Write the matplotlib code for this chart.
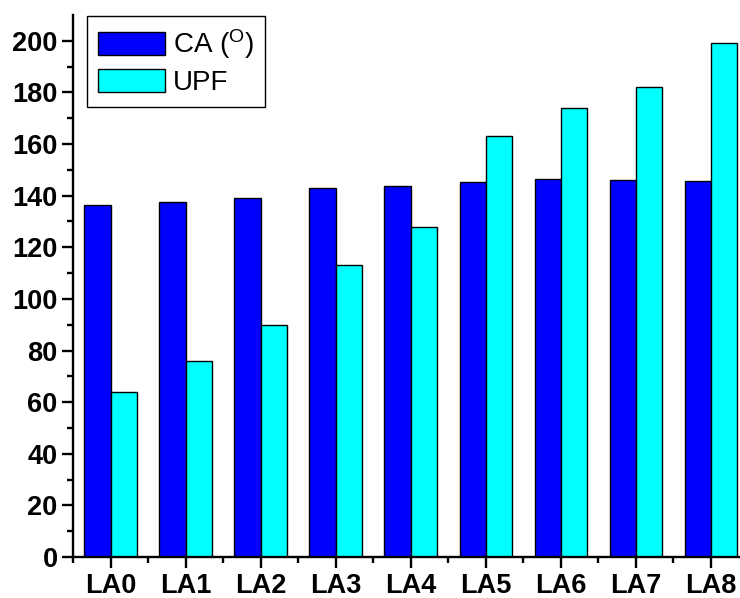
import numpy as np
import matplotlib.pyplot as plt

plt.rcParams['font.family'] = ['Liberation Sans', 'DejaVu Sans']
plt.rcParams['mathtext.fontset'] = 'custom'
plt.rcParams['mathtext.rm'] = 'Liberation Sans'

samples = ['LA0', 'LA1', 'LA2', 'LA3', 'LA4', 'LA5', 'LA6', 'LA7', 'LA8']
ca = [136.4, 137.6, 139.1, 143.0, 143.8, 145.3, 146.5, 146.1, 145.7]
upf = [64, 76, 90, 113, 128, 163, 174, 182, 199]

fig = plt.figure(figsize=(7.4, 5.98), dpi=100)
ax = fig.add_axes([73 / 740, 41 / 598, (748.5 - 73) / 740, (557 - 15) / 598])

x = np.arange(len(samples))
w = 0.35
ax.bar(x - w / 2, ca, w, color='#0000FF', edgecolor='black', linewidth=1.0,
       label='CA ($\\mathregular{^{O}}$)')
ax.bar(x + w / 2, upf, w, color='#00FFFF', edgecolor='black', linewidth=1.0,
       label='UPF')

ax.set_xlim(-0.5, 8.5)
ax.set_ylim(0, 210)
ax.set_xticks(x)
ax.set_xticklabels(samples)
ax.set_xticks(np.r_[-0.5, x[:-1] + 0.5], minor=True)
ax.set_yticks(np.arange(0, 201, 20))
ax.set_yticks(np.arange(10, 210, 20), minor=True)

for s in ['top', 'right']:
    ax.spines[s].set_visible(False)
for s in ['left', 'bottom']:
    ax.spines[s].set_linewidth(1.7)

ax.tick_params(which='major', direction='out', length=8, width=1.7, labelsize=19.5)
ax.tick_params(axis='y', which='major', pad=3)
ax.tick_params(which='minor', direction='out', length=4, width=1.7)
for lab in ax.get_xticklabels() + ax.get_yticklabels():
    lab.set_fontweight('bold')

leg = ax.legend(loc='upper left', bbox_to_anchor=(87 / 740, 1 - 16 / 598),
                bbox_transform=fig.transFigure, borderaxespad=0, fontsize=20,
                handlelength=2.4, handleheight=0.9, labelspacing=0.3,
                fancybox=False, framealpha=1, edgecolor='black',
                handletextpad=0.3, borderpad=0.4)
leg.get_frame().set_linewidth(1.0)

plt.savefig('out.png', dpi=100)
